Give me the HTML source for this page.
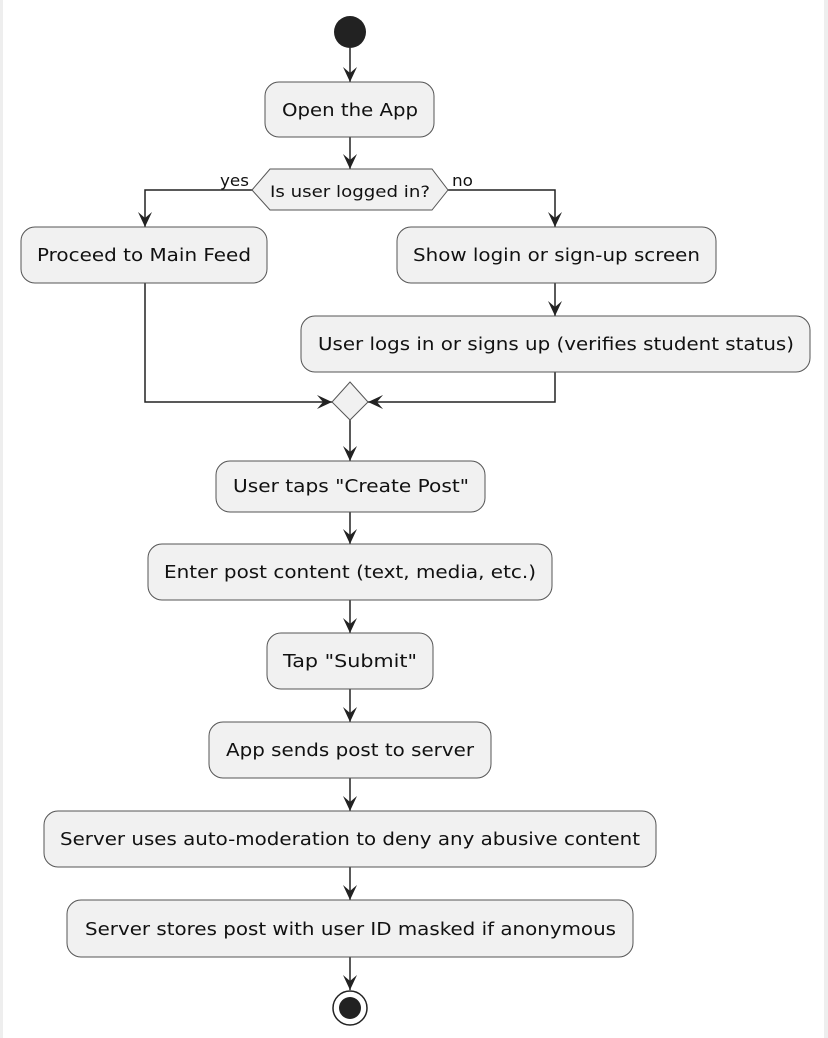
<!DOCTYPE html>
<html><head><style>
html,body{margin:0;padding:0;background:#fff}
svg{display:block}
text{font-family:"DejaVu Sans","Liberation Sans",sans-serif;font-size:18px;fill:#111}
</style></head><body>
<svg width="828" height="1038" viewBox="0 0 828 1038" xmlns="http://www.w3.org/2000/svg">
<rect x="0" y="0" width="828" height="1038" fill="#fff"/>
<rect x="0" y="0" width="3" height="1038" fill="#eee"/>
<rect x="824" y="0" width="4" height="1038" fill="#eee"/>
<g stroke="#222" stroke-width="1.5" fill="none">
<line x1="350" y1="48" x2="350" y2="82"/>
<line x1="350" y1="137" x2="350" y2="169"/>
<polyline points="252,190 145,190 145,227"/>
<polyline points="448,190 555,190 555,227"/>
<line x1="555" y1="283" x2="555" y2="316"/>
<polyline points="145,283 145,402 332,402"/>
<polyline points="555,372 555,402 368,402"/>
<line x1="350" y1="420" x2="350" y2="461"/>
<line x1="350" y1="512" x2="350" y2="544"/>
<line x1="350" y1="600" x2="350" y2="633"/>
<line x1="350" y1="689" x2="350" y2="722"/>
<line x1="350" y1="778" x2="350" y2="811"/>
<line x1="350" y1="867" x2="350" y2="900"/>
<line x1="350" y1="957" x2="350" y2="990"/>
</g>
<g fill="#222">
<polygon points="343,67 350,82 357,67 350,73"/>
<polygon points="343,154 350,169 357,154 350,160"/>
<polygon points="138,212 145,227 152,212 145,218"/>
<polygon points="548,212 555,227 562,212 555,218"/>
<polygon points="548,301 555,316 562,301 555,307"/>
<polygon points="317,395 332,402 317,409 323,402"/>
<polygon points="383,395 368,402 383,409 377,402"/>
<polygon points="343,446 350,461 357,446 350,452"/>
<polygon points="343,529 350,544 357,529 350,535"/>
<polygon points="343,618 350,633 357,618 350,624"/>
<polygon points="343,707 350,722 357,707 350,713"/>
<polygon points="343,796 350,811 357,796 350,802"/>
<polygon points="343,885 350,900 357,885 350,891"/>
<polygon points="343,975 350,990 357,975 350,981"/>
</g>
<circle cx="350" cy="32" r="16" fill="#222"/>
<circle cx="350" cy="1008" r="17" fill="#fff" stroke="#222" stroke-width="1.5"/>
<circle cx="350" cy="1008" r="11" fill="#222"/>
<g fill="#f1f1f1" stroke="#555" stroke-width="1">
<rect x="265" y="82" width="169" height="55" rx="14"/>
<polygon points="252,190 270,169 432,169 448,190 432,210 270,210"/>
<rect x="21" y="227" width="246" height="56" rx="14"/>
<rect x="397" y="227" width="319" height="56" rx="14"/>
<rect x="301" y="316" width="509" height="56" rx="14"/>
<polygon points="350,382 368,402 350,420 332,402"/>
<rect x="216" y="461" width="269" height="51" rx="14"/>
<rect x="148" y="544" width="404" height="56" rx="14"/>
<rect x="267" y="633" width="166" height="56" rx="14"/>
<rect x="209" y="722" width="282" height="56" rx="14"/>
<rect x="44" y="811" width="612" height="56" rx="14"/>
<rect x="67" y="900" width="566" height="57" rx="14"/>
</g>
<text x="282" y="116" textLength="136" lengthAdjust="spacingAndGlyphs">Open the App</text>
<text x="270" y="197" textLength="160" lengthAdjust="spacingAndGlyphs" style="font-size:16px">Is user logged in?</text>
<text x="220" y="186" textLength="29" lengthAdjust="spacingAndGlyphs" style="font-size:16px">yes</text>
<text x="452" y="186" textLength="21" lengthAdjust="spacingAndGlyphs" style="font-size:16px">no</text>
<text x="37" y="261" textLength="214" lengthAdjust="spacingAndGlyphs">Proceed to Main Feed</text>
<text x="413" y="261" textLength="287" lengthAdjust="spacingAndGlyphs">Show login or sign-up screen</text>
<text x="318" y="350" textLength="476" lengthAdjust="spacingAndGlyphs">User logs in or signs up (verifies student status)</text>
<text x="233" y="492" textLength="236" lengthAdjust="spacingAndGlyphs">User taps "Create Post"</text>
<text x="164" y="578" textLength="372" lengthAdjust="spacingAndGlyphs">Enter post content (text, media, etc.)</text>
<text x="283" y="667" textLength="134" lengthAdjust="spacingAndGlyphs">Tap "Submit"</text>
<text x="226" y="756" textLength="248" lengthAdjust="spacingAndGlyphs">App sends post to server</text>
<text x="60" y="845" textLength="580" lengthAdjust="spacingAndGlyphs">Server uses auto-moderation to deny any abusive content</text>
<text x="85" y="935" textLength="531" lengthAdjust="spacingAndGlyphs">Server stores post with user ID masked if anonymous</text>
</svg>
</body></html>
